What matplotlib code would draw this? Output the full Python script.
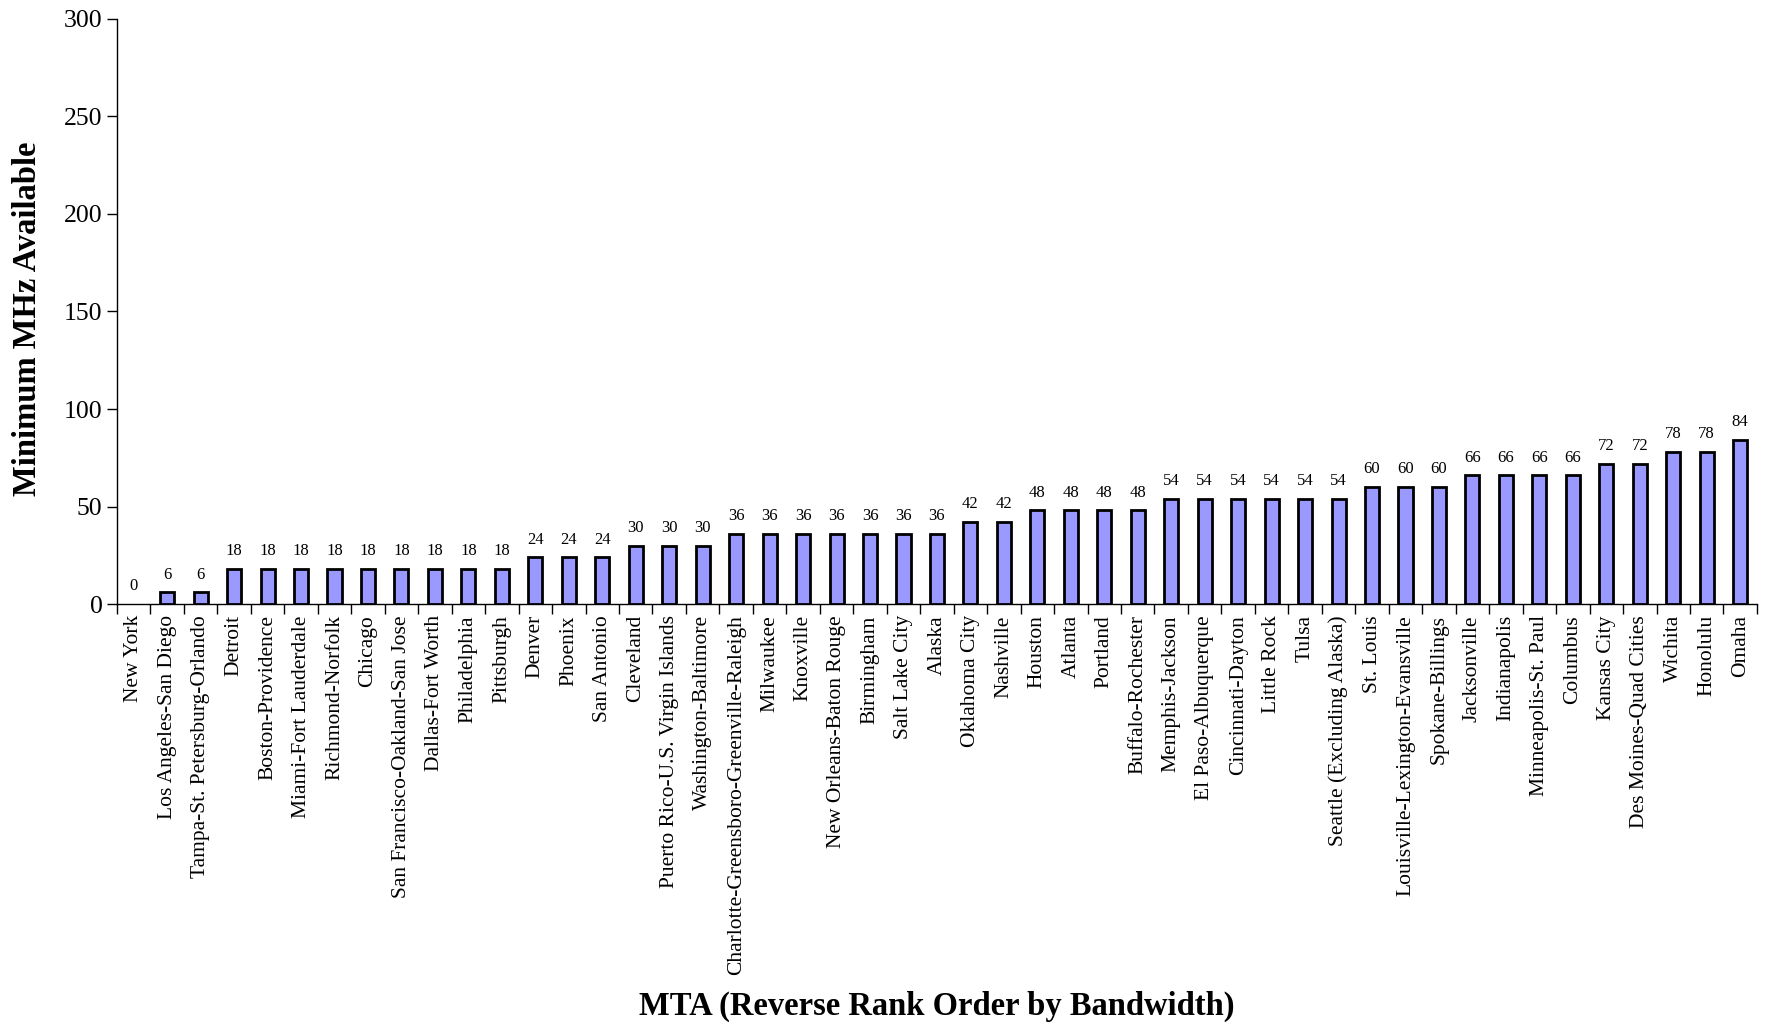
import matplotlib
matplotlib.use("Agg")
import matplotlib.pyplot as plt
import numpy as np

plt.rcParams['font.family'] = ['Liberation Serif', 'DejaVu Serif']

mtas = [
    "New York", "Los Angeles-San Diego", "Tampa-St. Petersburg-Orlando", "Detroit",
    "Boston-Providence", "Miami-Fort Lauderdale", "Richmond-Norfolk", "Chicago",
    "San Francisco-Oakland-San Jose", "Dallas-Fort Worth", "Philadelphia", "Pittsburgh",
    "Denver", "Phoenix", "San Antonio", "Cleveland", "Puerto Rico-U.S. Virgin Islands",
    "Washington-Baltimore", "Charlotte-Greensboro-Greenville-Raleigh", "Milwaukee",
    "Knoxville", "New Orleans-Baton Rouge", "Birmingham", "Salt Lake City", "Alaska",
    "Oklahoma City", "Nashville", "Houston", "Atlanta", "Portland", "Buffalo-Rochester",
    "Memphis-Jackson", "El Paso-Albuquerque", "Cincinnati-Dayton", "Little Rock", "Tulsa",
    "Seattle (Excluding Alaska)", "St. Louis", "Louisville-Lexington-Evansville",
    "Spokane-Billings", "Jacksonville", "Indianapolis", "Minneapolis-St. Paul", "Columbus",
    "Kansas City", "Des Moines-Quad Cities", "Wichita", "Honolulu", "Omaha",
]
mhz = [
    0, 6, 6, 18, 18, 18, 18, 18, 18, 18, 18, 18,
    24, 24, 24, 30, 30, 30, 36, 36, 36, 36, 36, 36, 36,
    42, 42, 48, 48, 48, 48,
    54, 54, 54, 54, 54, 54, 60, 60, 60,
    66, 66, 66, 66, 72, 72, 78, 78, 84,
]
y_ticks = [0, 50, 100, 150, 200, 250, 300]

fig = plt.figure(figsize=(17.67, 10.25), dpi=100)
ax = fig.add_axes([0.0662, 0.4107, 0.9281, 0.5708])

x = np.arange(len(mtas))
# zero-height bars get no outline
edge_w = [2.0 if v > 0 else 0.0 for v in mhz]
ax.bar(x, mhz, width=0.42, color="#9999FF", edgecolor="black", linewidth=edge_w, zorder=3)

for xi, v in zip(x, mhz):
    ax.annotate(str(v), (xi, v), xytext=(0, 7), textcoords="offset points",
                ha="center", va="bottom", fontsize=12)

ax.set_xlim(-0.5, len(mtas) - 0.5)
ax.set_ylim(0, 300)
ax.set_yticks(y_ticks)
ax.tick_params(axis="y", labelsize=18.5, direction="out", length=7, width=1.0)

ax.set_xticks(x)
ax.set_xticklabels(mtas, rotation=90, fontsize=15.5)
ax.tick_params(axis="x", which="major", length=0, pad=8)
ax.set_xticks(np.arange(len(mtas) + 1) - 0.5, minor=True)
ax.tick_params(axis="x", which="minor", direction="out", length=7, width=1.0)

for side in ("top", "right"):
    ax.spines[side].set_visible(False)
for side in ("left", "bottom"):
    ax.spines[side].set_linewidth(1.0)

ax.set_ylabel("Minimum MHz Available", fontsize=23.5, fontweight="bold")
ax.yaxis.set_label_coords(-0.045, 0.487)
fig.text(0.5 * (0.0662 + 0.9943), 0.0185, "MTA (Reverse Rank Order by Bandwidth)",
         ha="center", va="center", fontsize=23.5, fontweight="bold")

fig.savefig("out.png", dpi=100)
